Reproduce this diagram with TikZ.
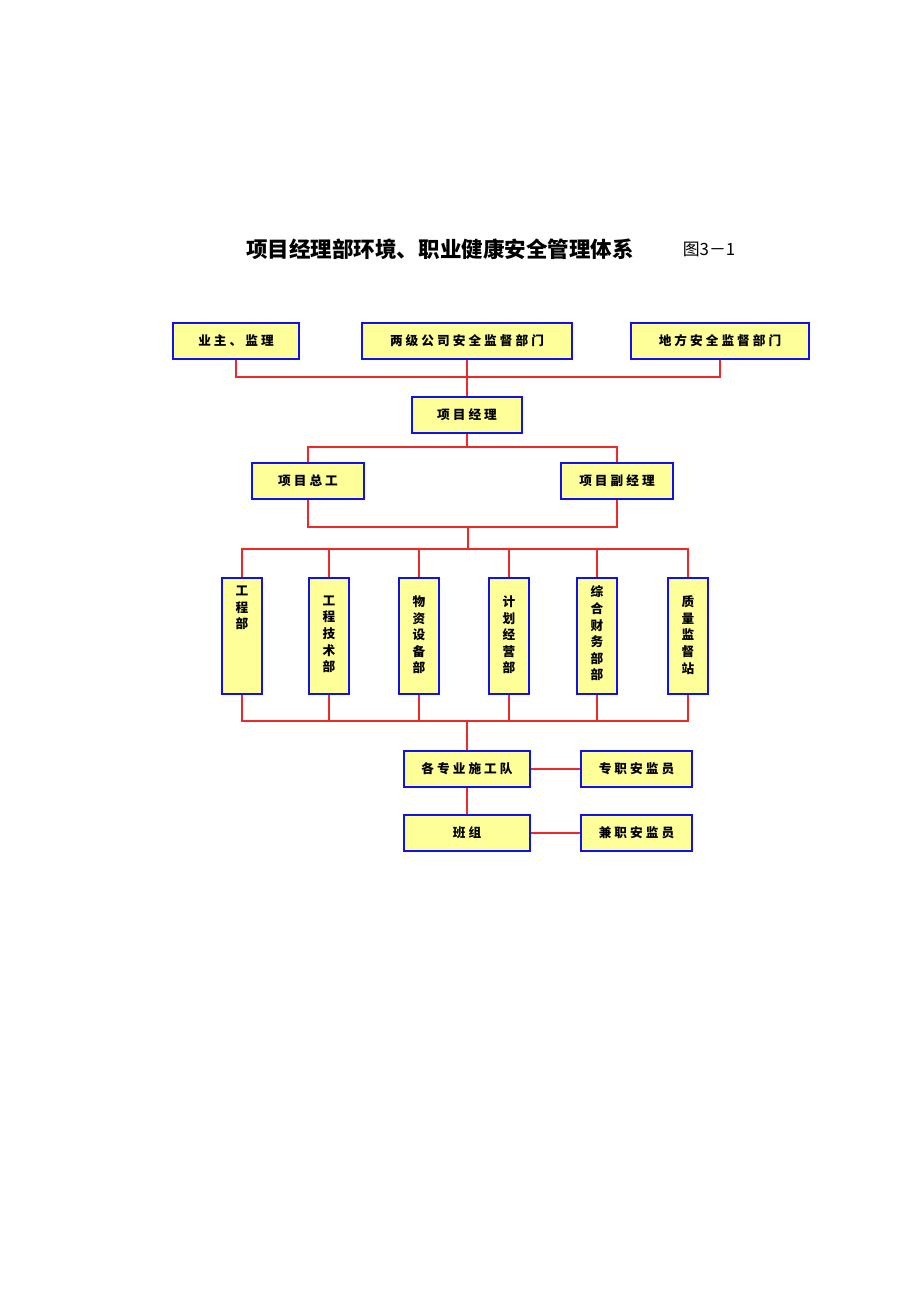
\documentclass[tikz,border=0pt]{standalone}
\usepackage{fontspec}
\usetikzlibrary{positioning}
\newfontfamily\titlefont{Noto Sans CJK SC}
\newfontfamily\boxfont[LetterSpace=24]{Noto Sans CJK SC}
\definecolor{boxfill}{HTML}{FFFF99}
\definecolor{boxline}{HTML}{1010F0}
\definecolor{linkred}{HTML}{F02828}

\tikzstyle{unit} = [draw=boxline, line width=1.4pt, fill=boxfill, minimum height=25.5pt, inner sep=0pt, font=\boxfont\bfseries\fontsize{9}{10}\selectfont]
\tikzstyle{dept} = [draw=boxline, line width=1.4pt, fill=boxfill, minimum width=28.3pt, minimum height=82.2pt, inner sep=0pt]
\tikzstyle{deptlabel} = [align=center, inner sep=0pt, font=\titlefont\bfseries\fontsize{9}{11.8}\selectfont]
\tikzstyle{link} = [draw=linkred, line width=0.85pt]

\begin{document}
\begin{tikzpicture}[x=0.025cm, y=-0.025cm]
        \useasboundingbox (0,0) rectangle (920,1302);

        % title
        \node[font=\titlefont\bfseries\fontsize{15.3}{18}\selectfont] (title) at (440,249) {项目经理部环境、职业健康安全管理体系};
        \node[font=\titlefont\fontsize{12}{14}\selectfont] (fig) at (709,249) {图3－1};

        % top level
        \node[unit, minimum width=89.3pt] (owner) at (236,341) {业主、监理};
        \node[unit, minimum width=148.8pt] (company) at (467,341) {两级公司安全监督部门};
        \node[unit, minimum width=126.2pt] (local) at (720,341) {地方安全监督部门};
        \node[unit, minimum width=78.7pt] (pm) at (467,415) {项目经理};
        \node[unit, minimum width=79.4pt] (chief) at (308,481) {项目总工};
        \node[unit, minimum width=79.4pt] (deputy) at (617,481) {项目副经理};

        % departments
        \node[dept] (d1) at (242,636) {};
        \node[dept] (d2) at (329,636) {};
        \node[dept] (d3) at (419,636) {};
        \node[dept] (d4) at (509,636) {};
        \node[dept] (d5) at (597,636) {};
        \node[dept] (d6) at (688,636) {};
        \node[deptlabel, below=6pt of d1.north] (t1) {工\\程\\部};
        \node[deptlabel, below=13pt of d2.north] (t2) {工\\程\\技\\术\\部};
        \node[deptlabel, below=13pt of d3.north] (t3) {物\\资\\设\\备\\部};
        \node[deptlabel, below=13pt of d4.north] (t4) {计\\划\\经\\营\\部};
        \node[deptlabel, below=6pt of d5.north] (t5) {综\\合\\财\\务\\部\\部};
        \node[deptlabel, below=13pt of d6.north] (t6) {质\\量\\监\\督\\站};

        % site level
        \node[unit, minimum width=89.3pt] (team) at (467,769) {各专业施工队};
        \node[unit, minimum width=78.7pt] (safety1) at (636.5,769) {专职安监员};
        \node[unit, minimum width=89.3pt] (group) at (467,833) {班组};
        \node[unit, minimum width=78.7pt] (safety2) at (636.5,833) {兼职安监员};

        % junctions
        \coordinate (busA) at (467,377);
        \coordinate (busB) at (467,447);
        \coordinate (busC) at (468,527);
        \coordinate (busD) at (468,549);
        \coordinate (busE) at (467,721);

        % connectors
        \draw[link] (owner.south) |- (busA) -| (local.south);
        \draw[link] (company.south) -- (pm.north);
        \draw[link] (pm.south) -- (busB);
        \draw[link] (chief.north) |- (busB) -| (deputy.north);
        \draw[link] (chief.south) |- (busC) -| (deputy.south);
        \draw[link] (busC) -- (busD);
        \draw[link] (d1.north) |- (busD) -| (d6.north);
        \draw[link] (d1.south) |- (busE) -| (d6.south);
        \foreach \d in {d2,d3,d4,d5}{
            \draw[link] (\d.north) -- (\d.north |- busD);
            \draw[link] (\d.south) -- (\d.south |- busE);
        }
        \draw[link] (busE) -- (team.north);
        \draw[link] (team.south) -- (group.north);
        \draw[link] (team.east) -- (safety1.west);
        \draw[link] (group.east) -- (safety2.west);
\end{tikzpicture}
\end{document}
